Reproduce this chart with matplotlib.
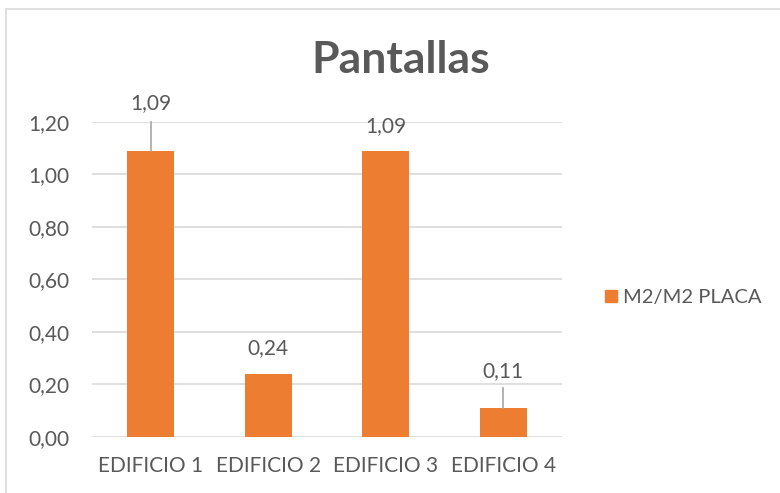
import matplotlib.pyplot as plt
from matplotlib.lines import Line2D

categories = ['EDIFICIO 1', 'EDIFICIO 2', 'EDIFICIO 3', 'EDIFICIO 4']
values = [1.09, 0.24, 1.09, 0.11]
series_name = 'M2/M2 PLACA'
yticks = [0.0, 0.2, 0.4, 0.6, 0.8, 1.0, 1.2]

# label centre heights (data units); leader lines run from bar top to leader_end
label_y = [1.27, 0.34, 1.185, 0.249]
leader_end = [1.20, None, None, 0.187]

orange = '#ED7D31'
text_gray = '#595959'
grid_gray = '#D9D9D9'

plt.rcParams['font.family'] = ['Lato', 'DejaVu Sans']

fig = plt.figure(figsize=(7.8, 4.93), dpi=100)
ax = fig.add_axes([0.118, 0.1136, 0.6025, 0.6395])

x = range(len(categories))
ax.bar(x, values, width=0.4, color=orange, zorder=3)

ax.set_xlim(-0.5, len(categories) - 0.5)
ax.set_ylim(0, 1.2)
ax.set_yticks(yticks)
ax.set_yticklabels([f'{v:.2f}'.replace('.', ',') for v in yticks])
ax.set_xticks(list(x))
ax.set_xticklabels(categories)
ax.tick_params(axis='both', length=0, labelsize=15, labelcolor=text_gray)
ax.tick_params(axis='y', pad=16)
ax.tick_params(axis='x', pad=14)
ax.grid(axis='y', color=grid_gray, linewidth=1.2, zorder=0)
for s in ax.spines.values():
    s.set_visible(False)

for i, v in enumerate(values):
    ax.text(i, label_y[i], f'{v:.2f}'.replace('.', ','), ha='center', va='center',
            fontsize=15, color=text_gray, clip_on=False)
    if leader_end[i] is not None:
        ax.plot([i, i], [v, leader_end[i]], color='#A6A6A6', linewidth=1.2,
                zorder=4, clip_on=False)

fig.text(401 / 780, 1 - 60 / 493, 'Pantallas', ha='center', va='center',
         fontsize=32, fontweight='bold', color=text_gray)

handle = Line2D([], [], marker='s', linestyle='none', markersize=9,
                markerfacecolor=orange, markeredgecolor=orange)
fig.legend([handle], [series_name], loc='center left',
           bbox_to_anchor=(592 / 780, 1 - 297 / 493), frameon=False, fontsize=14.5,
           labelcolor=text_gray, handletextpad=0.15, handlelength=0.9,
           borderpad=0.0)

# chart frame (top and left edges)
fig.add_artist(Line2D([6 / 780, 1], [1 - 9 / 493, 1 - 9 / 493],
                      transform=fig.transFigure, color='#D9D9D9', linewidth=1.2))
fig.add_artist(Line2D([6 / 780, 6 / 780], [0, 1 - 9 / 493],
                      transform=fig.transFigure, color='#D9D9D9', linewidth=1.2))

fig.savefig('out.png', dpi=100)
